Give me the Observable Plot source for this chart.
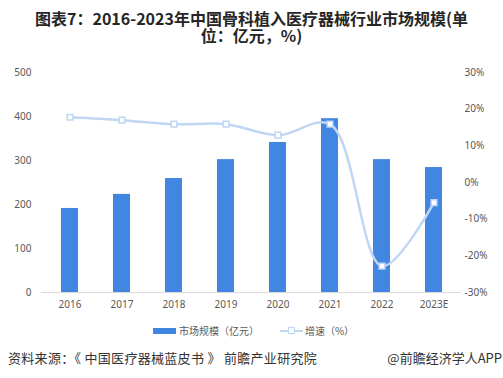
<!DOCTYPE html>
<html>
<head>
<meta charset="utf-8">
<script src="https://cdn.jsdelivr.net/npm/d3@7"></script>
<script src="https://cdn.jsdelivr.net/npm/@observablehq/plot@0.6"></script>
<style>
  html, body { margin: 0; padding: 0; background: #fff; }
  #wrap { position: relative; width: 503px; height: 378px; overflow: hidden; font-family: "Noto Sans CJK SC", "Noto Sans", sans-serif; }
  #title { position: absolute; top: 10px; left: 0; width: 503px; text-align: center; font-size: 16px; font-weight: bold; color: #262626; }
  #title div { height: 17px; line-height: 17px; }
  #chart { position: absolute; top: 50px; left: 0; }
  #legend { position: absolute; top: 323px; left: 0; width: 503px; display: flex; justify-content: center; align-items: center; font-size: 10px; color: #595959; padding-left: 2px; }
  .sw-bar { display: inline-block; width: 23px; height: 6px; background: #4186E0; margin-right: 3px; }
  .sw-line { display: inline-block; position: relative; width: 23px; height: 12px; margin-right: 2px; margin-left: 21px; }
  .sw-line::before { content: ""; position: absolute; left: 0; right: 0; top: 5px; height: 2px; background: #BFD6F4; }
  .sw-line::after { content: ""; position: absolute; left: 8px; top: 2px; width: 5px; height: 5px; background: #fff; border: 1.5px solid #BFD6F4; }
  #source { position: absolute; top: 348px; left: 8px; font-size: 13px; color: #333; letter-spacing: 0.3px; }
  #brand { position: absolute; top: 348px; right: 1px; font-size: 13px; color: #333; }
</style>
</head>
<body>
<div id="wrap">
  <div id="title"><div>图表7：2016-2023年中国骨科植入医疗器械行业市场规模(单</div><div>位：亿元，%)</div></div>
  <div id="chart"></div>
  <div id="legend"><span class="sw-bar"></span><span>市场规模（亿元）</span><span class="sw-line"></span><span>增速（%）</span></div>
  <div id="source">资料来源：《 中国医疗器械蓝皮书 》 前瞻产业研究院</div>
  <div id="brand">@前瞻经济学人APP</div>
</div>
<script>
const years = ["2016", "2017", "2018", "2019", "2020", "2021", "2022", "2023E"];
const marketSize = [191, 223, 259, 302, 341, 395, 302, 284];
const growth = [17.8, 17.0, 15.9, 15.9, 12.9, 15.9, -22.8, -5.5];
const leftTicks = [0, 100, 200, 300, 400, 500];
const rightTicks = [-30, -20, -10, 0, 10, 20, 30];

const leftMax = 500, rightMin = -30, rightMax = 30;
const toLeft = g => (g - rightMin) / (rightMax - rightMin) * leftMax;

const bars = years.map((y, i) => ({year: y, value: marketSize[i]}));
const pts = years.map((y, i) => ({year: y, g: growth[i]}));

const blue = "#4186E0";
const light = "#BFD6F4";
const gray = "#595959";

const chart = Plot.plot({
  width: 503,
  height: 270,
  marginTop: 22,
  marginBottom: 28,
  marginLeft: 41,
  marginRight: 42,
  style: { fontFamily: "'Noto Sans', 'Noto Sans CJK SC', sans-serif", fontSize: "10px", color: gray, background: "transparent" },
  x: { domain: years, paddingInner: 0.68, paddingOuter: 0.34, axis: null },
  y: { domain: [0, leftMax], axis: null },
  marks: [
    Plot.barY(bars, { x: "year", y: "value", fill: blue }),
    Plot.ruleY([0], { stroke: "#D9D9D9", strokeWidth: 1.2 }),
    Plot.lineY(pts, { x: "year", y: d => toLeft(d.g), stroke: light, strokeWidth: 2.5, curve: "catmull-rom" }),
    Plot.dot(pts, { x: "year", y: d => toLeft(d.g), symbol: "square", r: 3.2, fill: "white", stroke: light, strokeWidth: 1.5 }),
    Plot.axisX({ domain: years, tickSize: 0, tickPadding: 8, fill: gray, fontSize: 10, label: null }),
    Plot.axisY({ ticks: leftTicks, anchor: "left", tickSize: 0, tickPadding: 10, fill: gray, label: null }),
    Plot.axisY({ ticks: rightTicks.map(toLeft), anchor: "right", tickSize: 0, tickPadding: 3,
      tickFormat: v => Math.round(v / leftMax * (rightMax - rightMin) + rightMin) + "%", fill: gray, label: null })
  ]
});
document.getElementById("chart").appendChild(chart);
</script>
</body>
</html>
